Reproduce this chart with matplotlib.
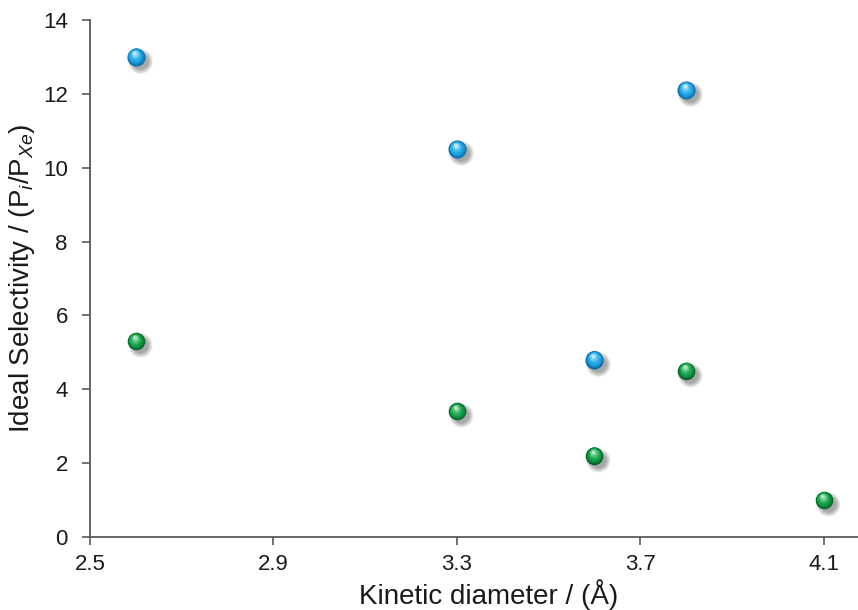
import numpy as np
import matplotlib
matplotlib.use("Agg")
import matplotlib.pyplot as plt
from matplotlib.colors import to_rgb
from matplotlib.transforms import ScaledTranslation

plt.rcParams['font.family'] = ['Liberation Sans', 'DejaVu Sans']
plt.rcParams['mathtext.fontset'] = 'custom'
plt.rcParams['mathtext.rm'] = 'Liberation Sans'
plt.rcParams['mathtext.it'] = 'Liberation Sans:italic'

# Kinetic diameters (Å) and ideal selectivities
blue_x = [2.6, 3.3, 3.6, 3.8]
blue_y = [13.0, 10.5, 4.8, 12.1]
green_x = [2.6, 3.3, 3.6, 3.8, 4.1]
green_y = [5.3, 3.4, 2.2, 4.5, 1.0]

x_ticks = [2.5, 2.9, 3.3, 3.7, 4.1]
y_ticks = [0, 2, 4, 6, 8, 10, 12, 14]

fig = plt.figure(figsize=(8.58, 6.10), dpi=100)
# the plotting area runs slightly past the right edge of the canvas
ax = fig.add_axes([90 / 858, 73 / 610, 798 / 858, 517 / 610])


def shifted(dx_px, dy_px):
    return ax.transData + ScaledTranslation(dx_px / 100, dy_px / 100, fig.dpi_scale_trans)


def sphere(ax, xs, ys, base, dark, light, size):
    base = np.array(to_rgb(base))
    dark = np.array(to_rgb(dark))
    light = np.array(to_rgb(light))
    d_px = np.sqrt(size) * 100 / 72  # marker diameter in pixels
    # soft drop shadow towards the lower right
    for k in range(10):
        f = 0.85 + 0.06 * k
        ax.scatter(xs, ys, s=size * f * f, color='#000000', alpha=0.04,
                   linewidths=0, zorder=2, transform=shifted(4, -4))
    # body shading: dark rim, saturated middle, pale highlight near the top
    n = 16
    for k in range(n):
        t = k / (n - 1)
        scale = 1.0 - 0.85 * t
        if t < 0.35:
            w = t / 0.35
            col = dark * (1 - w) + base * w
        else:
            w = (t - 0.35) / 0.65
            col = base * (1 - w ** 1.5) + light * w ** 1.5
        off = d_px * (1 - scale) * 0.5 * 0.55
        ax.scatter(xs, ys, s=size * scale ** 2, color=np.clip(col, 0, 1),
                   linewidths=0, zorder=3 + k * 0.01,
                   transform=shifted(-off * 0.35, off))


sphere(ax, blue_x, blue_y, '#1ea6e6', '#0d68a6', '#c4ecfb', 170)
sphere(ax, green_x, green_y, '#12a247', '#075e27', '#b6ecc8', 160)

ax.set_xlim(2.5, 4.24)
ax.set_ylim(0, 14)
ax.set_xticks(x_ticks)
ax.set_xticklabels([f"{v:.1f}" for v in x_ticks])
ax.set_yticks(y_ticks)

for side in ('top', 'right'):
    ax.spines[side].set_visible(False)
for side in ('left', 'bottom'):
    ax.spines[side].set_color('#595959')
    ax.spines[side].set_linewidth(1.3)

ax.tick_params(axis='both', direction='out', length=6, width=1.2,
               color='#595959', labelsize=16, labelcolor='#1a1a1a')
ax.tick_params(axis='x', pad=6.5)
ax.tick_params(axis='y', pad=10)

ax.set_xlabel('Kinetic diameter / (Å)', fontsize=20, color='#1a1a1a', labelpad=3)
ax.set_ylabel(r'Ideal Selectivity / (P$_{\mathit{i}}$/P$_{\mathit{Xe}}$)',
              fontsize=20, color='#1a1a1a', labelpad=4)

fig.savefig('out.png', dpi=100)
